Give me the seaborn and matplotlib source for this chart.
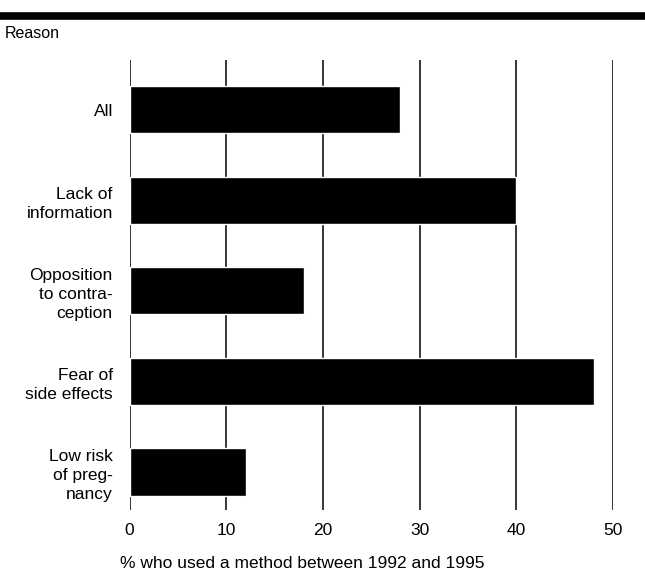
import matplotlib
matplotlib.use("Agg")
import matplotlib.pyplot as plt
import seaborn as sns
import pandas as pd

# categories and values (% who used a method between 1992 and 1995)
reasons = ["All", "Lack of\ninformation", "Opposition\nto contra-\nception",
           "Fear of\nside effects", "Low risk\nof preg-\nnancy"]
pct = [28, 40, 18, 48, 12]
xticks = [0, 10, 20, 30, 40, 50]

df = pd.DataFrame({"reason": reasons, "pct": pct})

sns.set_style("white")
plt.rcParams["font.family"] = ["Liberation Sans", "DejaVu Sans"]
plt.rcParams["text.color"] = "black"
plt.rcParams["xtick.color"] = "black"
plt.rcParams["ytick.color"] = "black"
plt.rcParams["axes.labelcolor"] = "black"

fig = plt.figure(figsize=(6.45, 5.71), dpi=100)
ax = fig.add_axes([0.2008, 0.1068, 0.7495, 0.7881])

# vertical gridlines
for t in xticks:
    ax.axvline(t, color="black", lw=1.1, zorder=0)

sns.barplot(data=df, x="pct", y="reason", orient="h", color="black",
            width=0.52, saturation=1, ax=ax, zorder=2)

ax.set_xlim(0, 50)
ax.set_ylim(4.42, -0.55)
ax.set_xticks(xticks)
ax.set_xticklabels([str(t) for t in xticks], fontsize=12.5)
ax.tick_params(axis="x", length=0, pad=9)
ax.tick_params(axis="y", length=0, pad=12)
for lab in ax.get_yticklabels():
    lab.set_fontsize(12.5)
    lab.set_horizontalalignment("right")
    lab.set_multialignment("right")
    lab.set_linespacing(1.35)
ax.set_ylabel("")
ax.set_xlabel("% who used a method between 1992 and 1995", fontsize=12.5)
ax.xaxis.label.set_horizontalalignment("left")
ax.xaxis.label.set_verticalalignment("center")
ax.xaxis.set_label_coords(-0.02, -0.118)
sns.despine(ax=ax, left=True, bottom=True)

# header rule and label
fig.add_artist(plt.Line2D([0, 1], [1 - 15.5 / 571, 1 - 15.5 / 571],
                          color="black", lw=5.5, transform=fig.transFigure))
fig.text(5 / 645, 1 - 33 / 571, "Reason", fontsize=11.5, va="center", ha="left")

fig.savefig("out.png", dpi=100)
